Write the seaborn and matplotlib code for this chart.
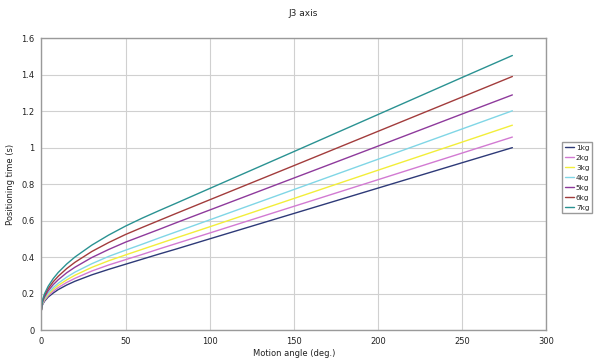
import pandas as pd
import matplotlib
matplotlib.use("Agg")
import matplotlib.pyplot as plt
import seaborn as sns


# Data

angle = [0, 0.5, 1, 2, 4, 7, 10, 15, 20, 30, 40, 50, 60, 70, 80, 100, 150, 200, 250, 280]

loads = ["1kg", "2kg", "3kg", "4kg", "5kg", "6kg", "7kg"]

t_1kg = [0.110, 0.135, 0.145, 0.160, 0.181, 0.203, 0.222, 0.247, 0.268, 0.303,
         0.333, 0.361, 0.389, 0.417, 0.444, 0.500, 0.639, 0.778, 0.917, 1.000]
t_2kg = [0.110, 0.138, 0.149, 0.165, 0.188, 0.213, 0.233, 0.261, 0.284, 0.324,
         0.357, 0.386, 0.415, 0.445, 0.474, 0.532, 0.678, 0.824, 0.970, 1.058]
t_3kg = [0.110, 0.140, 0.153, 0.170, 0.195, 0.223, 0.245, 0.275, 0.301, 0.344,
         0.380, 0.412, 0.443, 0.474, 0.505, 0.566, 0.721, 0.876, 1.030, 1.123]
t_4kg = [0.110, 0.143, 0.156, 0.176, 0.203, 0.233, 0.257, 0.290, 0.318, 0.364,
         0.404, 0.438, 0.471, 0.505, 0.538, 0.604, 0.770, 0.936, 1.102, 1.202]
t_5kg = [0.110, 0.147, 0.163, 0.184, 0.215, 0.249, 0.276, 0.314, 0.345, 0.398,
         0.442, 0.482, 0.517, 0.552, 0.588, 0.658, 0.833, 1.008, 1.184, 1.289]
t_6kg = [0.110, 0.151, 0.169, 0.193, 0.227, 0.265, 0.295, 0.337, 0.372, 0.431,
         0.480, 0.524, 0.563, 0.601, 0.639, 0.714, 0.901, 1.089, 1.277, 1.390]
t_7kg = [0.110, 0.156, 0.175, 0.202, 0.240, 0.282, 0.316, 0.362, 0.401, 0.466,
         0.521, 0.570, 0.614, 0.655, 0.695, 0.776, 0.978, 1.181, 1.384, 1.505]

colors = ["#2e3a78", "#d27ad2", "#f2ee3a", "#80d6e6", "#8e3a9c", "#a23c3c", "#2a9292"]


# Long-form table

series = [t_1kg, t_2kg, t_3kg, t_4kg, t_5kg, t_6kg, t_7kg]
rows = []
for name, vals in zip(loads, series):
    for a, t in zip(angle, vals):
        rows.append({"angle": a, "time": t, "load": name})
df = pd.DataFrame(rows)


# Plot

sns.set_style("white")
plt.rcParams["font.family"] = ["DejaVu Sans"]

fig = plt.figure(figsize=(6, 3.6), dpi=100)
ax = fig.add_axes([0.069, 0.083, 0.841, 0.811])

sns.lineplot(
    data=df,
    x="angle",
    y="time",
    hue="load",
    hue_order=loads,
    palette=colors,
    linewidth=1.0,
    ax=ax
)

ax.set_xlim(0, 300)
ax.set_ylim(0, 1.6)
ax.set_xticks([0, 50, 100, 150, 200, 250, 300])
ax.set_yticks([0, 0.2, 0.4, 0.6, 0.8, 1.0, 1.2, 1.4, 1.6])
ax.set_yticklabels(["0", "0.2", "0.4", "0.6", "0.8", "1", "1.2", "1.4", "1.6"])
ax.grid(True, color="#d0d0d0", linewidth=0.8)
ax.set_axisbelow(True)

for s in ax.spines.values():
    s.set_color("#9a9a9a")
    s.set_linewidth(1.0)

ax.tick_params(axis="both", labelsize=6, colors="#222222", length=2, width=0.6, pad=3)
ax.tick_params(axis="both", color="#9a9a9a")

ax.set_xlabel("Motion angle (deg.)", fontsize=6, color="#222222")
ax.set_ylabel("Positioning time (s)", fontsize=6, color="#222222")
ax.xaxis.set_label_coords(0.5, -0.066)
ax.yaxis.set_label_coords(-0.052, 0.5)

fig.text(0.505, 0.962, "J3 axis", fontsize=6.5, ha="center", va="center", color="#222222")

handles, labels = ax.get_legend_handles_labels()
ax.legend(
    handles,
    labels,
    loc="upper left",
    bbox_to_anchor=(0.937, 0.605),
    bbox_transform=fig.transFigure,
    fontsize=5.2,
    frameon=True,
    fancybox=False,
    edgecolor="#9a9a9a",
    framealpha=1,
    handlelength=1.3,
    handletextpad=0.25,
    borderpad=0.35,
    labelspacing=0.55,
    borderaxespad=0
)

plt.savefig("out.png", dpi=100)
